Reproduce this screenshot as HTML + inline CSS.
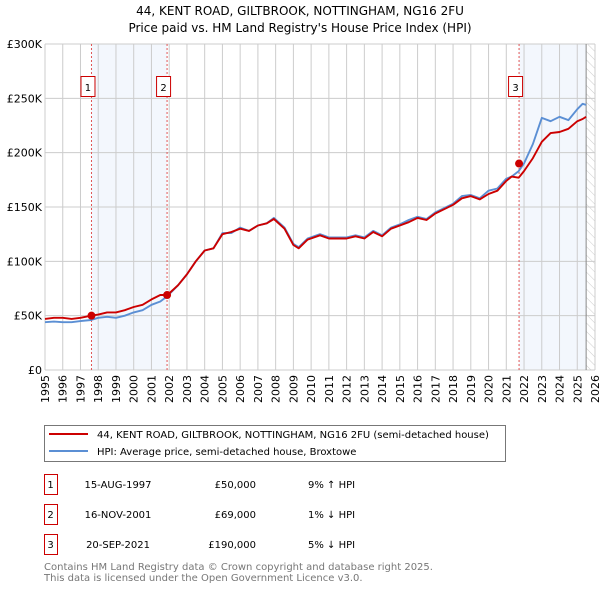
<!DOCTYPE html>
<html><head><meta charset="utf-8"><style>
body{margin:0;background:#fff;font-family:"DejaVu Sans","Liberation Sans",sans-serif;}
svg text{font-family:"DejaVu Sans","Liberation Sans",sans-serif;}
</style></head><body>
<svg id="c" width="600" height="590" xmlns="http://www.w3.org/2000/svg">
<defs><pattern id="hatch" width="6" height="6" patternUnits="userSpaceOnUse" patternTransform="rotate(-45)"><line x1="0" y1="0" x2="0" y2="6" stroke="#ccc" stroke-width="1"/></pattern></defs>
<text x="300" y="15" text-anchor="middle" font-size="12">44, KENT ROAD, GILTBROOK, NOTTINGHAM, NG16 2FU</text>
<text x="300" y="32" text-anchor="middle" font-size="12">Price paid vs. HM Land Registry's House Price Index (HPI)</text>
<g id="plot"></g>
<g>
<rect x="44.5" y="425.5" width="461" height="36" fill="#fff" stroke="#777"/>
<line x1="49" y1="434" x2="88" y2="434" stroke="#cc0000" stroke-width="2"/>
<text x="97" y="438" font-size="10">44, KENT ROAD, GILTBROOK, NOTTINGHAM, NG16 2FU (semi-detached house)</text>
<line x1="49" y1="451" x2="88" y2="451" stroke="#5b8fd4" stroke-width="2"/>
<text x="97" y="455" font-size="10">HPI: Average price, semi-detached house, Broxtowe</text>
</g>
<g id="table" font-size="10"></g>
<text x="44" y="570" font-size="10" fill="#777">Contains HM Land Registry data © Crown copyright and database right 2025.</text>
<text x="44" y="581" font-size="10" fill="#777">This data is licensed under the Open Government Licence v3.0.</text>
</svg>
<script>
const years=[1995,1995.5,1996,1996.5,1997,1997.6,1998,1998.5,1999,1999.5,2000,2000.5,2001,2001.5,2001.9,2002.5,2003,2003.5,2004,2004.5,2005,2005.5,2006,2006.5,2007,2007.5,2007.9,2008.5,2009,2009.3,2009.8,2010.5,2011,2011.5,2012,2012.5,2013,2013.5,2014,2014.5,2015,2015.5,2016,2016.5,2017,2017.5,2018,2018.5,2019,2019.5,2020,2020.5,2021,2021.3,2021.7,2022,2022.5,2023,2023.5,2024,2024.5,2025,2025.3,2025.5];
const hpiValues=[44,44.5,44,44,45,46,48,49,48,50,53,55,60,63,68,78,88,100,110,112,126,126,131,128,133,135,140,131,116,113,121,125,122,122,122,124,122,128,124,131,134,138,141,139,145,149,153,160,161,158,165,167,176,178,183,190,208,232,229,233,230,240,245,244];
const priceValues=[47,48,48,47,48,50,51,53,53,55,58,60,65,69,69,78,88,100,110,112,125,127,130,128,133,135,139,130,115,112,120,124,121,121,121,123,121,127,123,130,133,136,140,138,144,148,152,158,160,157,162,165,174,178,177,183,195,210,218,219,222,229,231,233];
const xTicks=[];for(let y=1995;y<=2026;y++)xTicks.push(y);
const yTicks=[0,50,100,150,200,250,300];
const yTickLabels=["£0","£50K","£100K","£150K","£200K","£250K","£300K"];
const saleYears=[1997.62,2001.88,2021.72];
const salePrices=[50,69,190];
const saleLabels=["1","2","3"];
const saleDates=["15-AUG-1997","16-NOV-2001","20-SEP-2021"];
const salePriceText=["£50,000","£69,000","£190,000"];
const saleHpiText=["9% ↑ HPI","1% ↓ HPI","5% ↓ HPI"];
const X0=45,X1=595,Y0=370,Y1=44;
const xs=v=>X0+(v-1995)/(2026-1995)*(X1-X0);
const ys=v=>Y0-v/300*(Y0-Y1);
const NS="http://www.w3.org/2000/svg";
const plot=document.getElementById('plot');
function mk(t,a,p){const e=document.createElementNS(NS,t);for(const k in a)e.setAttribute(k,a[k]);(p||plot).appendChild(e);return e;}
let r=mk('rect',{x:xs(saleYears[0]),y:Y1,width:xs(saleYears[1])-xs(saleYears[0]),height:Y0-Y1,fill:'#eef3fc',opacity:0.7});


r=mk('rect',{x:xs(saleYears[2]),y:Y1,width:xs(2025.5)-xs(saleYears[2]),height:Y0-Y1,fill:'#eef3fc',opacity:0.7});


r=mk('rect',{x:xs(2025.5),y:Y1,width:X1-xs(2025.5),height:Y0-Y1,fill:'url(#hatch)'});


xTicks.forEach(t=>{const l=mk('line',{x1:xs(t),x2:xs(t),y1:Y1,y2:Y0,stroke:'#ccc'});


const tx=mk('text',{x:0,y:0,'font-size':11,transform:`translate(${xs(t)+4},${Y0+33}) rotate(-90)`});tx.textContent=t;

});
yTicks.forEach((t,i)=>{const l=mk('line',{x1:X0,x2:X1,y1:ys(t),y2:ys(t),stroke:'#ccc'});


const tx=mk('text',{x:X0-3,y:ys(t)+4,'font-size':11,'text-anchor':'end'});tx.textContent=yTickLabels[i];

});
let e=mk('line',{x1:xs(2025.5),x2:xs(2025.5),y1:Y1,y2:Y0,stroke:'#888'});


saleYears.forEach((s,i)=>{const l=mk('line',{x1:xs(s),x2:xs(s),y1:Y1,y2:Y0,stroke:'#e05555','stroke-dasharray':'2,2'});


const b=mk('rect',{x:xs(s)-10.5,y:76.5,width:14,height:20,fill:'#fff',stroke:'#cc0000'});


const t=mk('text',{x:xs(s)-3.5,y:91,'font-size':10,'text-anchor':'middle'});t.textContent=saleLabels[i];

});
function line(vals,col,name){const d=years.map((y,i)=>(i?'L':'M')+xs(y).toFixed(1)+','+ys(vals[i]).toFixed(1)).join('');
const p=mk('path',{d,fill:'none',stroke:col,'stroke-width':1.9,'stroke-linejoin':'round'});

}
line(hpiValues,'#5b8fd4','hpi-line');
line(priceValues,'#cc0000','price-paid-line');
saleYears.forEach((s,i)=>{const c=mk('circle',{cx:xs(s),cy:ys(salePrices[i]),r:4,fill:'#cc0000'});

});
const tb=document.getElementById('table');
const rowY=[488,518,548];
saleLabels.forEach((lab,i)=>{const y=rowY[i];
const b=mk('rect',{x:44.5,y:y-13.5,width:13,height:20,fill:'#fff',stroke:'#cc0000'},tb);


const cells=[[50.5,lab,'middle'],[118,saleDates[i],'middle'],[256,salePriceText[i],'end'],[308,saleHpiText[i],'start']];
cells.forEach(c=>{const t=mk('text',{x:c[0],y:y,'text-anchor':c[2]},tb);t.textContent=c[1];

});});
</script>
</body></html>
